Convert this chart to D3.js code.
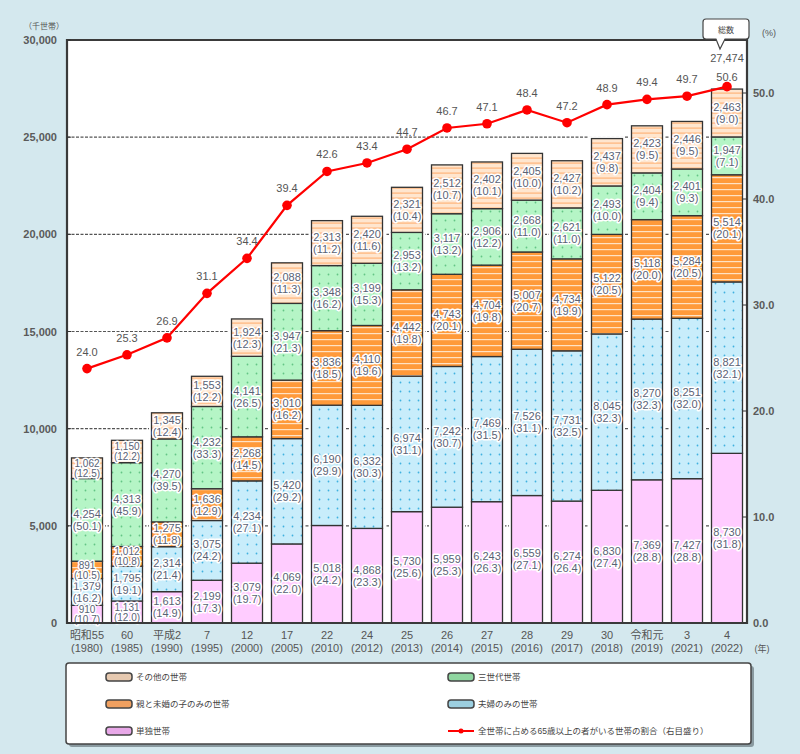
<!DOCTYPE html>
<html><head><meta charset="utf-8">
<script src="https://cdn.jsdelivr.net/npm/d3@7"></script>
<style>
body{margin:0;background:#d4e8ee;}
svg{display:block;font-family:"Liberation Sans","Noto Sans CJK JP",sans-serif;}
</style></head>
<body><svg id="c" width="800" height="754"></svg>
<script>
const eraLabels = ['昭和55','60','平成2','7','12','17','22','24','25','26','27','28','29','30','令和元','3','4'];
const yearLabels = ['(1980)','(1985)','(1990)','(1995)','(2000)','(2005)','(2010)','(2012)','(2013)','(2014)','(2015)','(2016)','(2017)','(2018)','(2019)','(2021)','(2022)'];

const single      = [910,1131,1613,2199,3079,4069,5018,4868,5730,5959,6243,6559,6274,6830,7369,7427,8730];
const singlePct   = [10.7,12.0,14.9,17.3,19.7,22.0,24.2,23.3,25.6,25.3,26.3,27.1,26.4,27.4,28.8,28.8,31.8];
const couple      = [1379,1795,2314,3075,4234,5420,6190,6332,6974,7242,7469,7526,7731,8045,8270,8251,8821];
const couplePct   = [16.2,19.1,21.4,24.2,27.1,29.2,29.9,30.3,31.1,30.7,31.5,31.1,32.5,32.3,32.3,32.0,32.1];
const parentChild = [891,1012,1275,1636,2268,3010,3836,4110,4442,4743,4704,5007,4734,5122,5118,5284,5514];
const parentChildPct = [10.5,10.8,11.8,12.9,14.5,16.2,18.5,19.6,19.8,20.1,19.8,20.7,19.9,20.5,20.0,20.5,20.1];
const threeGen    = [4254,4313,4270,4232,4141,3947,3348,3199,2953,3117,2906,2668,2621,2493,2404,2401,1947];
const threeGenPct = [50.1,45.9,39.5,33.3,26.5,21.3,16.2,15.3,13.2,13.2,12.2,11.0,11.0,10.0,9.4,9.3,7.1];
const other       = [1062,1150,1345,1553,1924,2088,2313,2420,2321,2512,2402,2405,2427,2437,2423,2446,2463];
const otherPct    = [12.5,12.2,12.4,12.2,12.3,11.3,11.2,11.6,10.4,10.7,10.1,10.0,10.2,9.8,9.5,9.5,9.0];
const elderShare  = [24.0,25.3,26.9,31.1,34.4,39.4,42.6,43.4,44.7,46.7,47.1,48.4,47.2,48.9,49.4,49.7,50.6];
const lastTotal = 27474;

const leftTicks = [0,5000,10000,15000,20000,25000,30000];
const rightTicks = [0,10,20,30,40,50];

const seriesKeys = ['single','couple','parentChild','threeGen','other'];
const seriesNames = {single:'単独世帯',couple:'夫婦のみの世帯',parentChild:'親と未婚の子のみの世帯',threeGen:'三世代世帯',other:'その他の世帯'};
const seriesVals = {single,couple,parentChild,threeGen,other};
const seriesPct = {single:singlePct,couple:couplePct,parentChild:parentChildPct,threeGen:threeGenPct,other:otherPct};

const rows = eraLabels.map((e,i)=>{const r={i};seriesKeys.forEach(k=>r[k]=seriesVals[k][i]);return r;});

const svg = d3.select('#c');
const L=67,R=747,T=40,B=623;
const x = d3.scaleBand().domain(d3.range(eraLabels.length)).range([L,R]).paddingInner(0.225).paddingOuter(0.1125);
const y = d3.scaleLinear().domain([0,30000]).range([B,T]);
const y2 = d3.scaleLinear().domain([0,55]).range([B,T]);

// patterns
const defs = svg.append('defs');
function dots(id,bg,dot){
  const p=defs.append('pattern').attr('id',id).attr('patternUnits','userSpaceOnUse').attr('width',9).attr('height',9);
  p.append('rect').attr('width',9).attr('height',9).attr('fill',bg);
  p.append('circle').attr('cx',4.5).attr('cy',4.5).attr('r',0.9).attr('fill',dot);
}
function stripes(id,bg,line,h){
  const p=defs.append('pattern').attr('id',id).attr('patternUnits','userSpaceOnUse').attr('width',10).attr('height',h);
  p.append('rect').attr('width',10).attr('height',h).attr('fill',bg);
  p.append('rect').attr('y',h/2).attr('width',10).attr('height',1.2).attr('fill',line);
}
dots('pCouple','#c8edfb','#3fb1e0');
dots('pThree','#b5f5c6','#63c585');
stripes('pParent','#ff9a3a','#ffe2c4',6);
stripes('pOther','#ffe6cf','#ffb47a',5);
const fills={single:'#ffccff',couple:'url(#pCouple)',parentChild:'url(#pParent)',threeGen:'url(#pThree)',other:'url(#pOther)'};
const swatch={single:'#e8a8e8',couple:'#9ccfe0',parentChild:'#f0a060',threeGen:'#8fd6a0',other:'#e6c9b0'};

// plot background
svg.append('rect').attr('x',L).attr('y',T).attr('width',R-L).attr('height',B-T).attr('fill','#fff');

// grid
svg.append('g').selectAll('line').data(leftTicks.filter(t=>t>0&&t<30000)).join('line')
  .attr('x1',L).attr('x2',R).attr('y1',d=>y(d)).attr('y2',d=>y(d))
  .attr('stroke','#555').attr('stroke-width',1.2).attr('stroke-dasharray','3,1.5');

// bars
const stack = d3.stack().keys(seriesKeys)(rows);
const totals = rows.map(r=>d3.sum(seriesKeys,k=>r[k]));
svg.append('g').selectAll('rect').data(rows).join('rect')
  .attr('x',d=>x(d.i)-2.5).attr('width',x.bandwidth()+5)
  .attr('y',d=>y(totals[d.i])-2.5).attr('height',d=>B-y(totals[d.i])+2.5).attr('fill','#fff');
const gBars = svg.append('g');
stack.forEach(s=>{
  gBars.append('g').selectAll('rect').data(s).join('rect')
    .attr('x',(d,i)=>x(i)).attr('width',x.bandwidth())
    .attr('y',d=>y(d[1])).attr('height',d=>y(d[0])-y(d[1]))
    .attr('fill',fills[s.key]).attr('stroke','#333').attr('stroke-width',1.3);
});

// segment labels
const gLab = svg.append('g').attr('font-size',11).attr('text-anchor','middle').attr('fill','#5a6275')
  .attr('stroke','#fff').attr('stroke-width',3).attr('paint-order','stroke').attr('stroke-linejoin','round');
stack.forEach(s=>{
  s.forEach((d,i)=>{
    const cx=x(i)+x.bandwidth()/2, cy=(y(d[0])+y(d[1]))/2;
    const small = (y(d[0])-y(d[1])) < 24;
    const fs = small ? 10 : 11, gap = small ? 10 : 12;
    gLab.append('text').attr('x',cx).attr('y',cy+4-gap/2).attr('font-size',fs).text(d3.format(',')(seriesVals[s.key][i]));
    gLab.append('text').attr('x',cx).attr('y',cy+4+gap/2).attr('font-size',fs).text('('+seriesPct[s.key][i].toFixed(1)+')');
  });
});

// axes frame
svg.append('path').attr('d',`M${L},${T}H${R}V${B}H${L}Z`).attr('fill','none').attr('stroke','#3a3a3a').attr('stroke-width',2.2);

// left axis
svg.append('g').attr('font-size',11).attr('fill','#5a5a5a').attr('text-anchor','end').attr('font-weight','bold')
  .selectAll('text').data(leftTicks).join('text').attr('x',57).attr('y',d=>y(d)+4).text(d=>d3.format(',')(d));
svg.append('g').selectAll('line').data(leftTicks).join('line').attr('x1',L).attr('x2',L+4).attr('y1',d=>y(d)).attr('y2',d=>y(d)).attr('stroke','#333');
svg.append('text').attr('x',44).attr('y',29).attr('font-size',8).attr('fill','#555').attr('text-anchor','middle').text('（千世帯）');

// right axis
svg.append('g').attr('font-size',11).attr('fill','#5a5a5a').attr('font-weight','bold')
  .selectAll('text').data(rightTicks).join('text').attr('x',753).attr('y',d=>y2(d)+4).text(d=>d.toFixed(1));
svg.append('g').selectAll('line').data(rightTicks).join('line').attr('x1',R-4).attr('x2',R).attr('y1',d=>y2(d)).attr('y2',d=>y2(d)).attr('stroke','#333');
svg.append('text').attr('x',769).attr('y',36).attr('font-size',9).attr('fill','#555').attr('text-anchor','middle').text('(%)');

// x labels
const gx = svg.append('g').attr('font-size',11).attr('fill','#555').attr('text-anchor','middle');
eraLabels.forEach((e,i)=>{
  const cx=x(i)+x.bandwidth()/2;
  gx.append('text').attr('x',cx).attr('y',639).text(e);
  gx.append('text').attr('x',cx).attr('y',652).text(yearLabels[i]);
});
svg.append('text').attr('x',762).attr('y',652).attr('font-size',9).attr('fill','#555').attr('text-anchor','middle').text('(年)');

// line
const line = d3.line().x((d,i)=>x(i)+x.bandwidth()/2).y(d=>y2(d));
svg.append('path').datum(elderShare).attr('d',line).attr('fill','none').attr('stroke','#ff0000').attr('stroke-width',2.2);
svg.append('g').selectAll('circle').data(elderShare).join('circle')
  .attr('cx',(d,i)=>x(i)+x.bandwidth()/2).attr('cy',d=>y2(d)).attr('r',4.8).attr('fill','#ff0000');
const lastIdx = elderShare.length-1;
svg.append('g').attr('font-size',11).attr('fill','#555').attr('text-anchor','middle')
  .selectAll('text').data(elderShare).join('text')
  .attr('x',(d,i)=>x(i)+x.bandwidth()/2).attr('y',(d,i)=>y2(d)-(i===lastIdx?6:13)).text(d=>d.toFixed(1));

// total callout
const lcx = x(lastIdx)+x.bandwidth()/2;
svg.append('path').attr('d',`M706,19H746Q749,19 749,22V36Q749,39 746,39H725L720,49L716,39H706Q703,39 703,36V22Q703,19 706,19Z`)
  .attr('fill','#fff').attr('stroke','#444').attr('stroke-width',1.2);
svg.append('text').attr('x',726).attr('y',33).attr('font-size',8).attr('fill','#444').attr('text-anchor','middle').text('総数');
svg.append('text').attr('x',lcx).attr('y',y(lastTotal)-27).attr('font-size',11).attr('fill','#555').attr('text-anchor','middle').text(d3.format(',')(lastTotal));

// legend
svg.append('rect').attr('x',69).attr('y',666).attr('width',685).attr('height',81).attr('rx',3).attr('fill','#8a9aa0');
svg.append('rect').attr('x',66).attr('y',663).attr('width',685).attr('height',81).attr('rx',3).attr('fill','#fff').attr('stroke','#444').attr('stroke-width',1.5);
const legendItems = [
  {key:'other',col:0,row:0},{key:'threeGen',col:1,row:0},
  {key:'parentChild',col:0,row:1},{key:'couple',col:1,row:1},
  {key:'single',col:0,row:2},{key:'line',col:1,row:2}
];
const gl = svg.append('g');
legendItems.forEach(it=>{
  const lx = it.col===0?106:448, ly = 677+it.row*27;
  if(it.key==='line'){
    gl.append('line').attr('x1',lx).attr('x2',lx+26).attr('y1',ly).attr('y2',ly).attr('stroke','#ff0000').attr('stroke-width',2);
    gl.append('circle').attr('cx',lx+13).attr('cy',ly).attr('r',2.5).attr('fill','#ff0000');
    gl.append('text').attr('x',lx+30).attr('y',ly+3).attr('font-size',8.5).attr('fill','#444').text('全世帯に占める65歳以上の者がいる世帯の割合（右目盛り）');
  } else {
    gl.append('rect').attr('x',lx).attr('y',ly-4).attr('width',26).attr('height',8).attr('rx',3).attr('fill',swatch[it.key]).attr('stroke','#444').attr('stroke-width',1.5);
    gl.append('text').attr('x',lx+30).attr('y',ly+3).attr('font-size',8.5).attr('fill','#444').text(seriesNames[it.key]);
  }
});
</script></body></html>
